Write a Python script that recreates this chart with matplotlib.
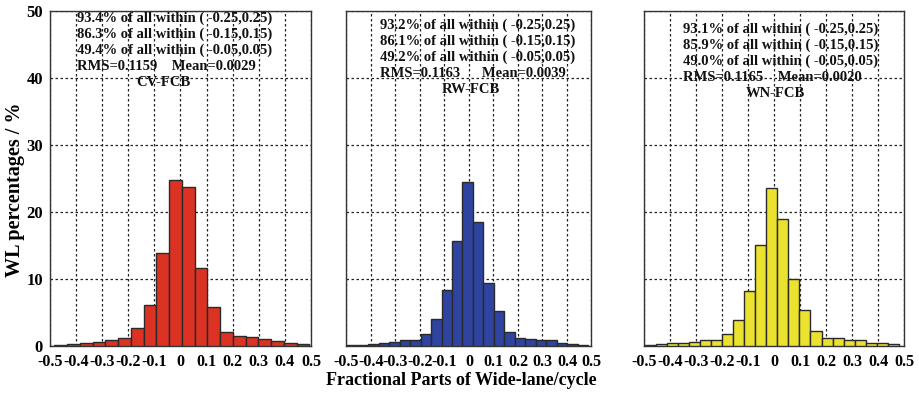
import numpy as np
import matplotlib
matplotlib.use("Agg")
import matplotlib.pyplot as plt

plt.rcParams['font.family'] = ['Liberation Serif', 'DejaVu Serif']
plt.rcParams['font.weight'] = 'bold'

# --- data ---
cv_range = (-0.4835, 0.4935)
cv_pct = [0.15, 0.3, 0.5, 0.65, 0.95, 1.25, 2.75, 6.1, 13.9, 24.75,
          23.75, 11.6, 5.8, 2.15, 1.45, 1.3, 1.1, 0.8, 0.4, 0.3]

rw_range = (-0.497, 0.487)
rw_pct = [0.1, 0.1, 0.35, 0.5, 0.6, 0.85, 0.95, 1.85, 4.0, 8.35, 15.7, 24.5,
          18.55, 9.45, 5.27, 2.05, 1.2, 1.05, 0.95, 0.85, 0.5, 0.35, 0.1]

wn_range = (-0.497, 0.4785)
wn_pct = [0.15, 0.3, 0.45, 0.5, 0.6, 0.85, 0.85, 1.85, 3.9, 8.15, 15.1, 23.6,
          18.9, 10.0, 5.4, 2.3, 1.15, 1.15, 0.85, 0.85, 0.5, 0.4, 0.3]

cv_stats = ["93.4% of all within ( -0.25,0.25)",
            "86.3% of all within ( -0.15,0.15)",
            "49.4% of all within ( -0.05,0.05)",
            "RMS=0.1159    Mean=0.0029"]
rw_stats = ["93.2% of all within ( -0.25,0.25)",
            "86.1% of all within ( -0.15,0.15)",
            "49.2% of all within ( -0.05,0.05)",
            "RMS=0.1163      Mean=0.0039"]
wn_stats = ["93.1% of all within ( -0.25,0.25)",
            "85.9% of all within ( -0.15,0.15)",
            "49.0% of all within ( -0.05,0.05)",
            "RMS=0.1165    Mean=0.0020"]

names = ["CV-FCB", "RW-FCB", "WN-FCB"]
xticks = [-0.5, -0.4, -0.3, -0.2, -0.1, 0, 0.1, 0.2, 0.3, 0.4, 0.5]
xticklabels = ["-0.5", "-0.4", "-0.3", "-0.2", "-0.1", "0",
               "0.1", "0.2", "0.3", "0.4", "0.5"]
yticks = [0, 10, 20, 30, 40, 50]

fig = plt.figure(figsize=(9.19, 3.93), dpi=100)

panels = [
    # axes rect, data, range, colour, stats, text x, first line y, label x
    ([0.0544, 0.1196, 0.284, 0.852], cv_pct, cv_range, "#DC3223", cv_stats, -0.397, 48.96, -0.067),
    ([0.3770, 0.1196, 0.2666, 0.852], rw_pct, rw_range, "#2E44A0", rw_stats, -0.363, 47.9, 0.008),
    ([0.7011, 0.1196, 0.2829, 0.852], wn_pct, wn_range, "#EAE22E", wn_stats, -0.351, 47.3, 0.006),
]

for i, (rect, pct, rng, col, stats, tx, ty, lx) in enumerate(panels):
    ax = fig.add_axes(rect)
    edges = np.linspace(rng[0], rng[1], len(pct) + 1)
    ax.bar(edges[:-1], pct, width=np.diff(edges), align="edge",
           color=col, edgecolor="#2a2a2a", linewidth=1.0, zorder=3)
    ax.set_xlim(-0.5, 0.5)
    ax.set_ylim(0, 50)
    ax.set_xticks(xticks)
    ax.set_xticklabels(xticklabels, fontsize=11.5, fontweight="bold")
    ax.set_yticks(yticks)
    if i == 0:
        ax.set_yticklabels([str(v) for v in yticks], fontsize=12, fontweight="bold")
    else:
        ax.set_yticklabels([])
    ax.tick_params(axis="x", length=0, pad=6)
    ax.tick_params(axis="y", length=0, pad=5)
    ax.grid(True, color="#222222", linestyle=(0, (2, 2)), linewidth=0.9, zorder=0)
    ax.set_axisbelow(True)
    for sp in ax.spines.values():
        sp.set_color("#333333")
        sp.set_linewidth(1.0)

    for k, line in enumerate(stats):
        ax.text(tx, ty - k * 2.39, line, fontsize=10.5, fontweight="bold",
                ha="left", va="center", color="#111111", zorder=5)
    ax.text(lx, ty - 4 * 2.39, names[i], fontsize=10.5, fontweight="bold",
            ha="center", va="center", color="#111111", zorder=5)

fig.text(0.0165, 0.516, "WL percentages / %", rotation=90, fontsize=14.5,
         fontweight="bold", ha="center", va="center")
fig.text(0.5016, 0.033, "Fractional Parts of Wide-lane/cycle", fontsize=13,
         fontweight="bold", ha="center", va="center")

fig.savefig("out.png", dpi=100)
